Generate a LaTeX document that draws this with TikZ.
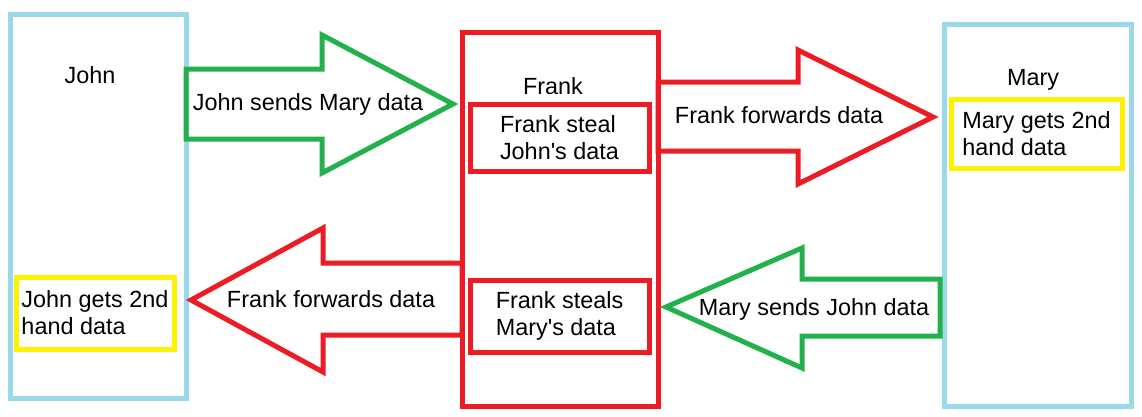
\documentclass[tikz,border=0pt]{standalone}
\usepackage{fontspec}
\setmainfont{Liberation Sans}[Ligatures=TeXOff]
\definecolor{lblue}{RGB}{153,217,234}
\definecolor{pred}{RGB}{237,28,36}
\definecolor{pgreen}{RGB}{34,177,76}
\definecolor{pyellow}{RGB}{255,242,0}
\begin{document}
\begin{tikzpicture}[x=1pt,y=-1pt,
  font=\fontsize{23.4}{27}\selectfont,
  boxbase/.style={draw, line width=5pt, inner sep=0pt, outer sep=0pt, align=left},
  person/.style={boxbase, draw=lblue},
  thief/.style={boxbase, draw=pred},
  gets/.style={boxbase, draw=pyellow},
  lbl/.style={anchor=base, inner sep=0pt},
  arrowtext/.style={anchor=base, inner sep=0pt},
  garrow/.style={draw=pgreen, line width=5pt, line join=miter},
  rarrow/.style={draw=pred, line width=5pt, line join=miter}]
\useasboundingbox (0,0) rectangle (1142,416);

% parties
\node[person, minimum width=176pt, minimum height=384pt] (john) at (98,206) {};
\node[lbl] (johnlbl) at (90,83) {John};
\node[thief, minimum width=196pt, minimum height=374pt] (frank) at (560,219) {};
\node[lbl] (franklbl) at (553,94) {Frank};
\node[person, minimum width=187pt, minimum height=382pt] (mary) at (1037.5,215) {};
\node[lbl] (marylbl) at (1033,85) {Mary};

% inner boxes
\node[thief, minimum width=179pt, minimum height=67pt] (stealj) at (559.5,137.5) {Frank steal\\John's data};
\node[thief, minimum width=179pt, minimum height=72pt] (stealm) at (559.5,316) {Frank steals\\Mary's data};
\node[gets, minimum width=158pt, minimum height=72pt] (johngets) at (95,313) {John gets 2nd\\hand data};
\node[gets, minimum width=171pt, minimum height=69pt] (marygets) at (1036.5,133.5) {Mary gets 2nd\\hand data};

% block arrows
\draw[garrow] (john.east |- 0,69) -- (322,69) -- (322,35) -- (453,104)
  -- (322,173) -- (322,139) -- (john.east |- 0,139) -- cycle;
\node[arrowtext] (ga) at (308,110) {John sends Mary data};

\draw[rarrow] (frank.east |- 0,82) -- (798,82) -- (798,50) -- (933,117)
  -- (798,184) -- (798,151) -- (frank.east |- 0,151) -- cycle;
\node[arrowtext] (ra) at (779,123) {Frank forwards data};

\draw[rarrow] (frank.west |- 0,263) -- (323,263) -- (323,228) -- (191,300)
  -- (323,372) -- (323,335) -- (frank.west |- 0,335) -- cycle;
\node[arrowtext] (rb) at (331,307) {Frank forwards data};

\draw[garrow] (940,279) -- (802,279) -- (802,248) -- (666,307)
  -- (802,368) -- (802,336) -- (940,336) -- cycle;
\node[arrowtext] (gb) at (814,315) {Mary sends John data};
\end{tikzpicture}
\end{document}
